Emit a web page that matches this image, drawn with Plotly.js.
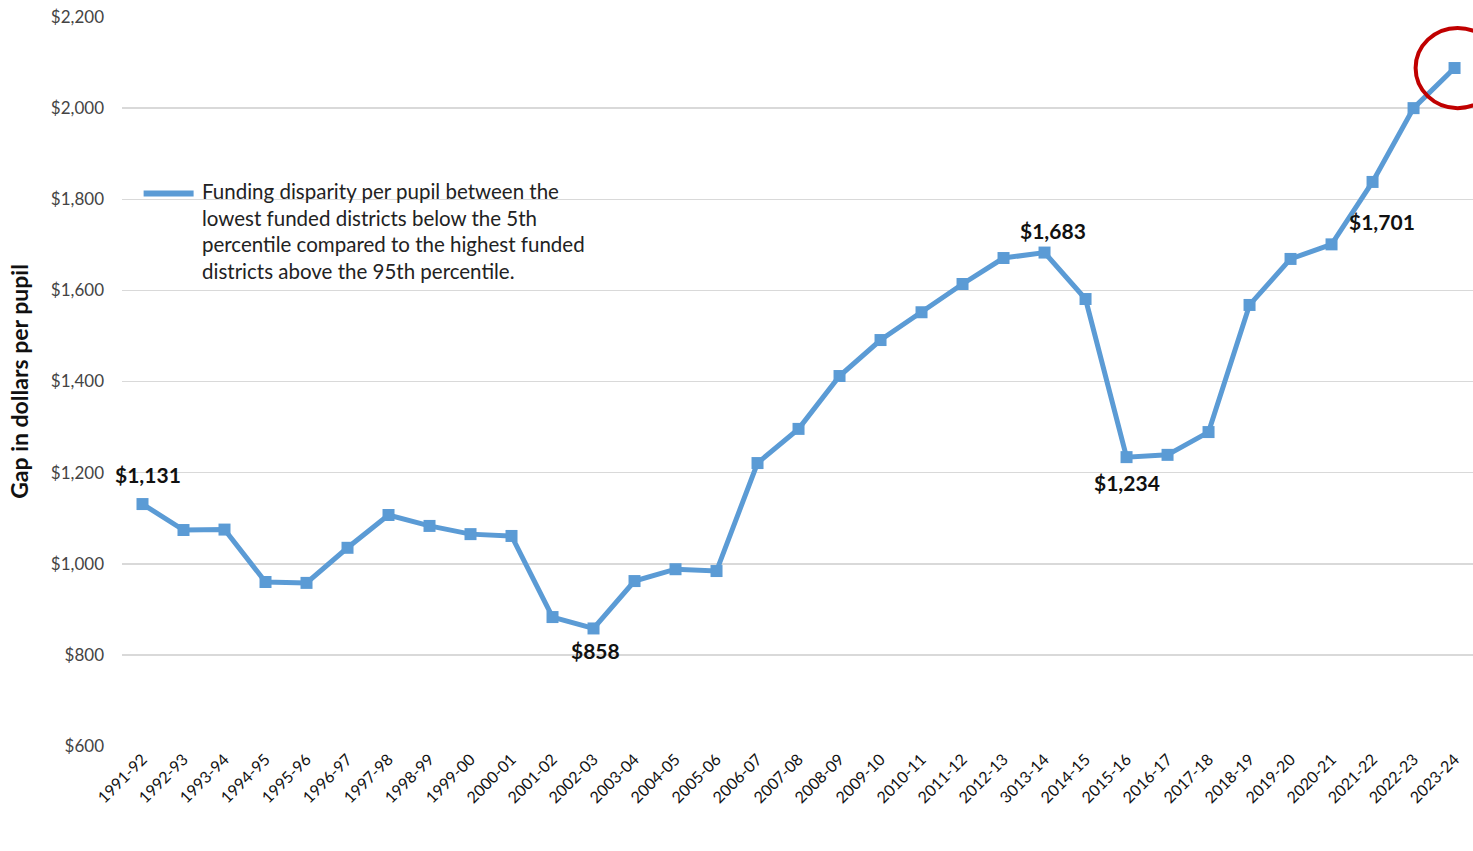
<!DOCTYPE html>
<html>
<head>
<meta charset="utf-8">
<script src="https://cdn.plot.ly/plotly-3.0.1.min.js"></script>
<style>html,body{margin:0;padding:0;background:#fff;}#chart{width:1473px;height:851px;}</style>
</head>
<body>
<div id="chart"></div>
<script>
const years = ["1991-92","1992-93","1993-94","1994-95","1995-96","1996-97","1997-98","1998-99","1999-00","2000-01","2001-02","2002-03","2003-04","2004-05","2005-06","2006-07","2007-08","2008-09","2009-10","2010-11","2011-12","2012-13","3013-14","2014-15","2015-16","2016-17","2017-18","2018-19","2019-20","2020-21","2021-22","2022-23","2023-24"];
const gap = [1131,1074,1075,960,958,1035,1107,1083,1065,1061,883,858,962,988,984,1221,1296,1412,1491,1552,1614,1671,1683,1581,1234,1239,1289,1568,1669,1701,1838,2000,2088];
const yTicks = [600,800,1000,1200,1400,1600,1800,2000,2200];
const yTickText = ["$600","$800","$1,000","$1,200","$1,400","$1,600","$1,800","$2,000","$2,200"];
const labelled = [{i:0, ax:5, ay:-30}, {i:11, ax:2, ay:22}, {i:22, ax:8, ay:-22}, {i:24, ax:0, ay:25}, {i:29, ax:50, ay:-23}];
const legendText = "Funding disparity per pupil between the<br>lowest funded districts below the 5th<br>percentile compared to the highest funded<br>districts above the 95th percentile.";
const FONT = "Lato, 'Liberation Sans', sans-serif";
const blue = "#5B9BD5";

const trace = {
  x: years.map((_, i) => i), y: gap, type: "scatter", mode: "lines+markers",
  line: {color: blue, width: 5}, marker: {symbol: "square", size: 12, color: blue},
  showlegend: false, hoverinfo: "skip"
};

const annotations = labelled.map(o => ({
  x: o.i, y: gap[o.i], xref: "x", yref: "y", ax: o.ax, ay: o.ay, showarrow: true, arrowcolor: "rgba(0,0,0,0)",
  text: "$" + gap[o.i].toLocaleString("en-US"), font: {family: FONT, size: 21, color: "#111", weight: "bold"}
}));
annotations.push({
  xref: "paper", yref: "paper", x: 0.058, y: 0.780, xanchor: "left", yanchor: "top", showarrow: false, align: "left",
  text: legendText, font: {family: FONT, size: 20.5, color: "#222"}
});

const n = years.length - 1;
const layout = {
  width: 1473, height: 851, paper_bgcolor: "#fff", plot_bgcolor: "#fff",
  margin: {l: 122, r: 0, t: 17, b: 105},
  font: {family: FONT},
  xaxis: {range: [-0.5, n + 0.45], tickmode: "array", tickvals: years.map((_, i) => i), ticktext: years,
    tickangle: -45, showgrid: false, zeroline: false, showline: false, ticks: "",
    tickfont: {family: FONT, size: 16, color: "#111"}},
  yaxis: {range: [600, 2200], tickvals: yTicks, ticktext: yTickText, showgrid: true, gridcolor: "#d9d9d9", gridwidth: 1.5,
    zeroline: false, showline: false, ticks: "", ticklabelstandoff: 17,
    tickfont: {family: FONT, size: 17, color: "#444"},
    title: {text: "Gap in dollars per pupil", font: {family: FONT, size: 23, color: "#111", weight: "bold"}, standoff: 15}},
  annotations: annotations,
  shapes: [
    {type: "line", xref: "paper", yref: "paper", x0: 0.016, x1: 0.053, y0: 0.758, y1: 0.758, line: {color: blue, width: 6}},
    {type: "circle", xref: "x", yref: "y", x0: n - 0.95, x1: n + 1.1, y0: 2000, y1: 2176, line: {color: "#C00000", width: 4}}
  ]
};
Plotly.newPlot("chart", [trace], layout, {staticPlot: true});
</script>
</body>
</html>
